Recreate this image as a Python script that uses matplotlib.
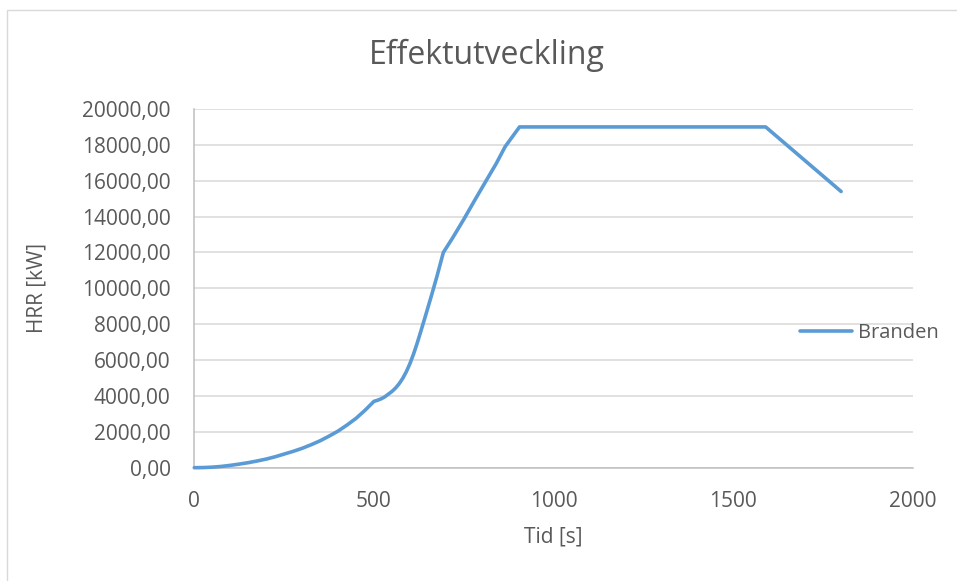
import numpy as np
import matplotlib.pyplot as plt
from matplotlib.patches import Rectangle

# HRR curve for the fire, time in seconds and effect in kW
tid = [0, 25, 50, 75, 100, 125, 150, 175, 200, 225, 250, 275, 300, 325, 350,
       375, 400, 425, 450, 475, 500,
       510, 520, 530, 540, 550, 560, 570, 580, 590, 600, 610, 620, 630,
       645, 660, 675, 693,
       720, 750, 780, 815, 840, 865, 905, 1590, 1800]
hrr = [0, 8, 30, 70, 130, 200, 280, 375, 480, 610, 760, 910, 1080, 1280, 1500,
       1760, 2040, 2380, 2750, 3200, 3700,
       3760, 3840, 3950, 4100, 4250, 4440, 4680, 4980, 5350, 5800, 6330, 6930, 7580,
       8580, 9600, 10650, 12000,
       12850, 13850, 14900, 16100, 16950, 17900, 19000, 19000, 15400]
serie_namn = "Branden"
x_ticks = [0, 500, 1000, 1500, 2000]
y_ticks = list(range(0, 20001, 2000))

plt.rcParams['font.family'] = ['Open Sans', 'DejaVu Sans']
text_color = '#595959'

W, H = 957, 581
fig = plt.figure(figsize=(W / 100, H / 100), dpi=100)

# thin chart-area border
fig.patches.append(Rectangle((6.5 / W, -0.01), 1.0, 1 - 10 / H + 0.01,
                             transform=fig.transFigure, fill=False,
                             edgecolor='#d9d9d9', linewidth=1.0))

left, right, top, bottom = 194.3, 913, 109, 467.7
ax = fig.add_axes([left / W, 1 - bottom / H, (right - left) / W, (bottom - top) / H])

ax.plot(tid, hrr, color='#5b9bd5', linewidth=2.6, label=serie_namn,
        solid_joinstyle='round', solid_capstyle='round', clip_on=False, zorder=3)

ax.set_xlim(0, 2000)
ax.set_ylim(0, 20000)
ax.set_xticks(x_ticks)
ax.set_yticks(y_ticks)
ax.set_yticklabels([f"{v:.2f}".replace('.', ',') for v in y_ticks])
ax.tick_params(length=0, labelsize=15, labelcolor=text_color)
ax.tick_params(axis='y', pad=17)
ax.tick_params(axis='x', pad=17)

ax.grid(True, axis='y', color='#d9d9d9', linewidth=1.1)
ax.set_axisbelow(True)
for s in ['top', 'right']:
    ax.spines[s].set_visible(False)
for s in ['left', 'bottom']:
    ax.spines[s].set_color('#bfbfbf')
    ax.spines[s].set_linewidth(1.1)

fig.text(487 / W, 1 - 55 / H, "Effektutveckling", fontsize=23,
         color=text_color, ha='center', va='center')
fig.text(553 / W, 1 - 537 / H, "Tid [s]", fontsize=15,
         color=text_color, ha='center', va='center')
fig.text(37 / W, 1 - 288 / H, "HRR [kW]", fontsize=15, rotation=90,
         color=text_color, ha='center', va='center')

leg = ax.legend(loc='center left', bbox_to_anchor=(800 / W, 1 - 333 / H),
                bbox_transform=fig.transFigure, frameon=False,
                fontsize=14.5, handlelength=2.6, handletextpad=0.3,
                borderpad=0, borderaxespad=0)
for t in leg.get_texts():
    t.set_color(text_color)

fig.savefig('out.png', dpi=100, facecolor='white')
